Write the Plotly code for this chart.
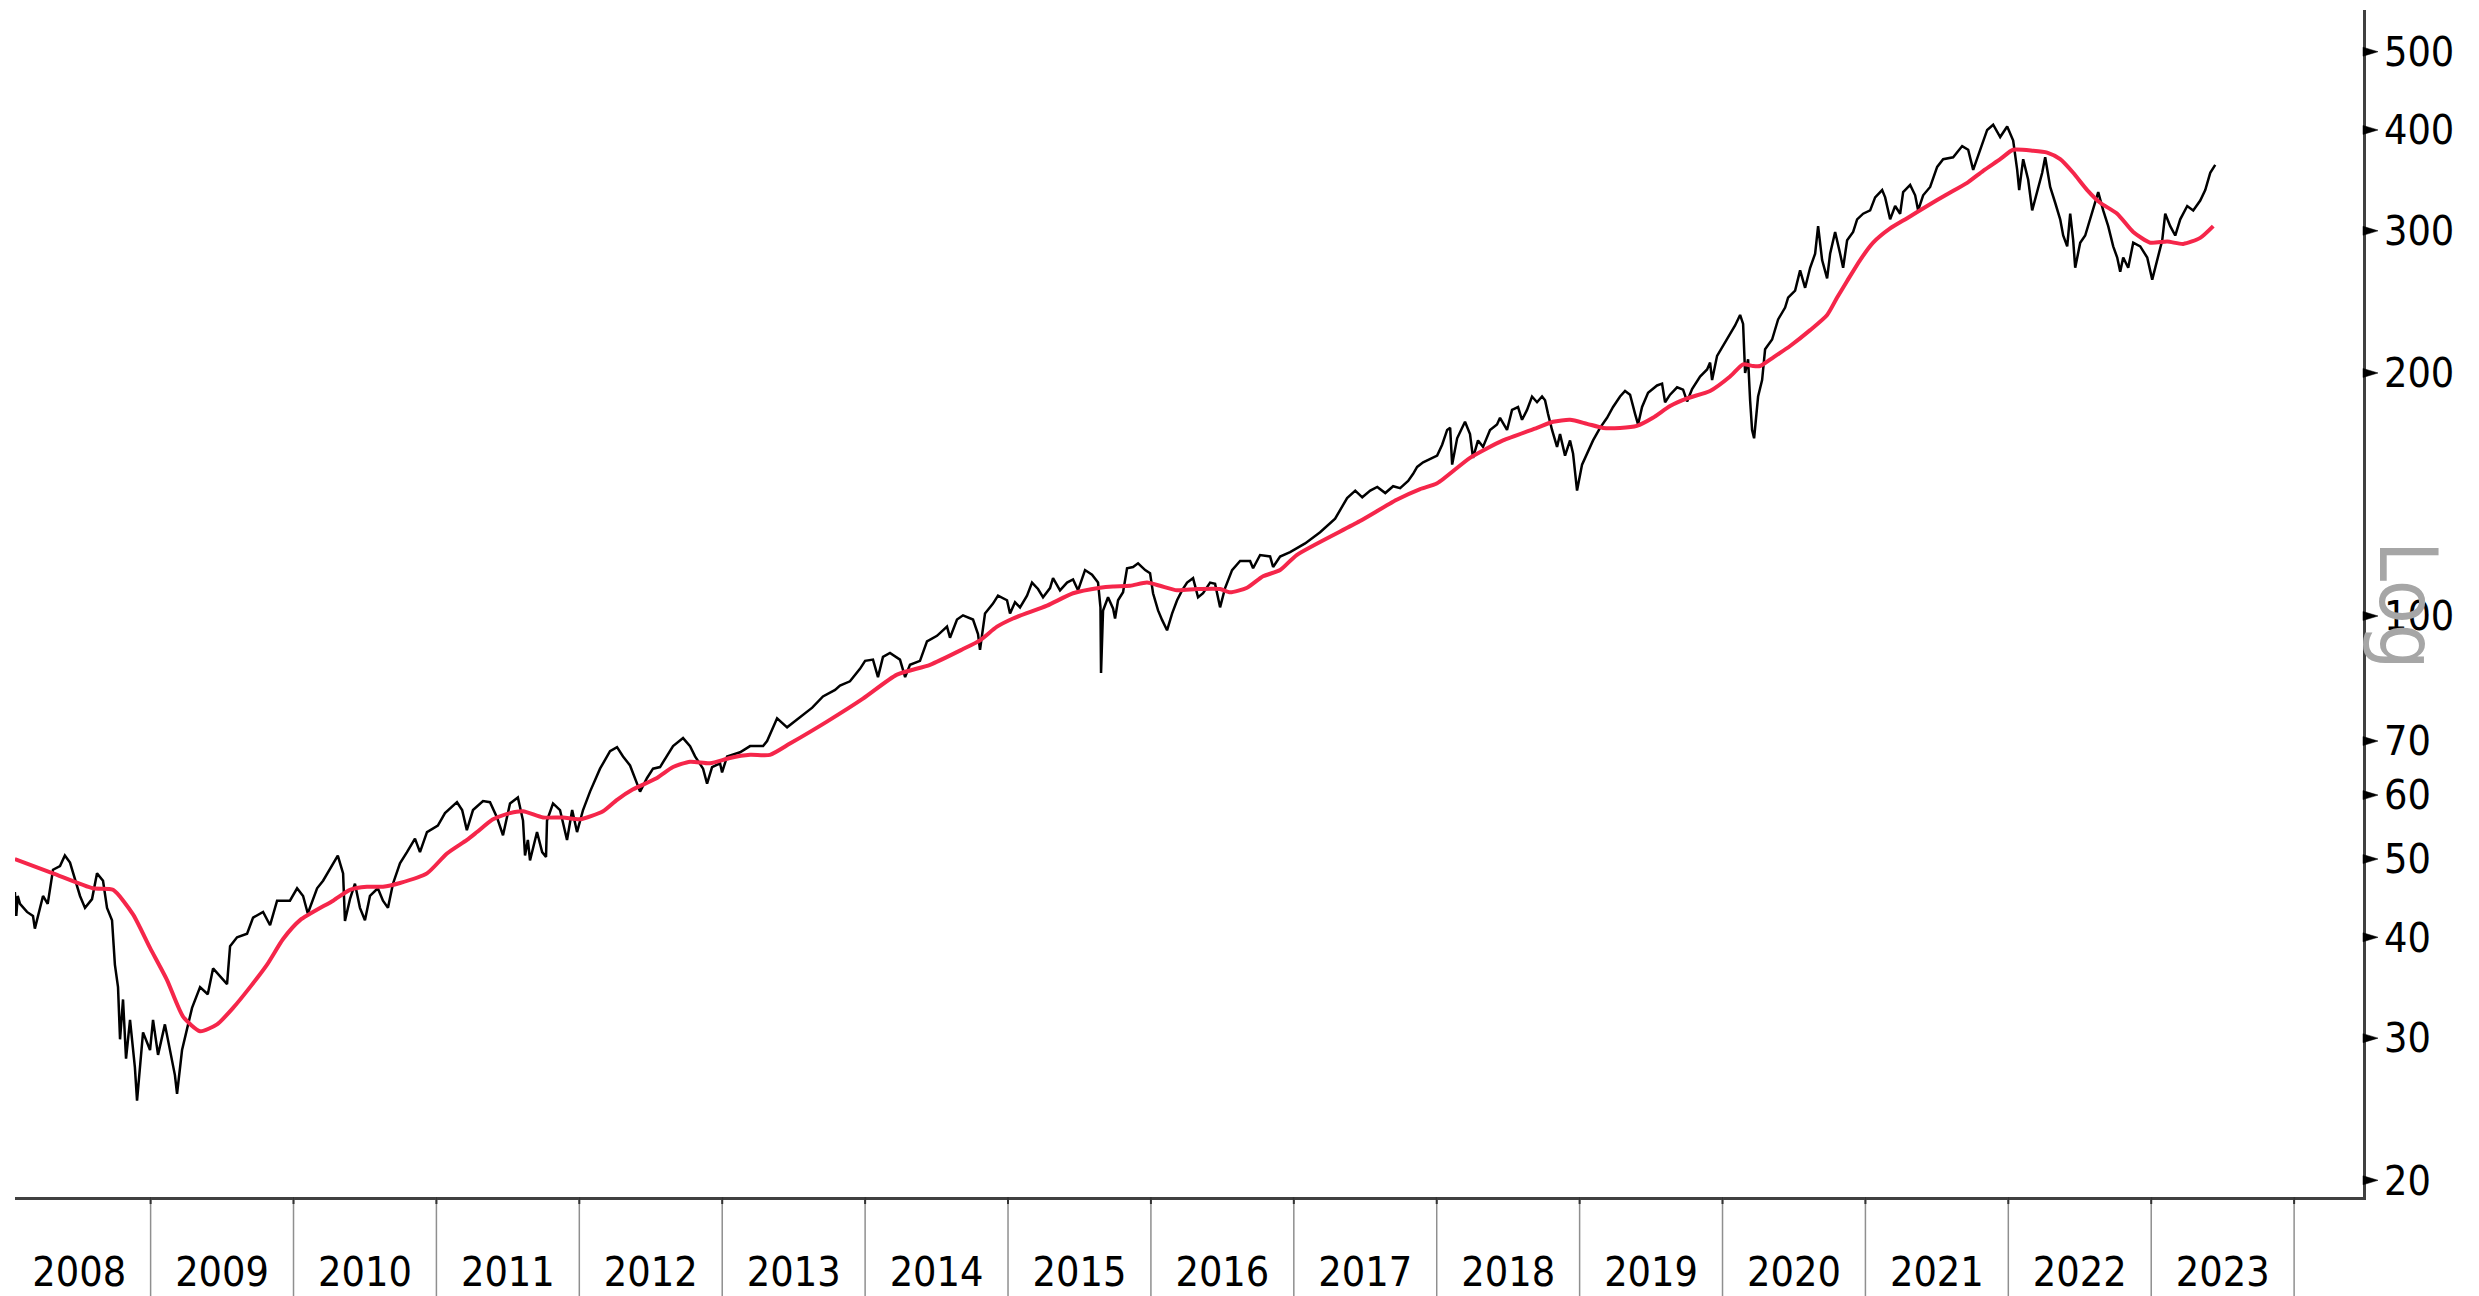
import math
import plotly.graph_objects as go

# ---------------- data ----------------
# time in decimal years, price level
black_t = [
    2008.05, 2008.06, 2008.07, 2008.086, 2008.135, 2008.177, 2008.19, 2008.247, 2008.28, 2008.317,
    2008.366, 2008.40, 2008.436, 2008.457, 2008.506, 2008.541, 2008.59, 2008.625, 2008.667, 2008.695,
    2008.73, 2008.75, 2008.772, 2008.786, 2008.807, 2008.828, 2008.856, 2008.89, 2008.905, 2008.947,
    2008.996, 2009.017, 2009.052, 2009.10, 2009.136, 2009.17, 2009.185, 2009.22, 2009.255, 2009.29,
    2009.346, 2009.40, 2009.437, 2009.50, 2009.535, 2009.556, 2009.605, 2009.675, 2009.717, 2009.787,
    2009.836, 2009.885, 2009.975, 2010.025, 2010.067, 2010.10, 2010.165, 2010.207, 2010.277, 2010.31,
    2010.347, 2010.36, 2010.395, 2010.43, 2010.465, 2010.50, 2010.535, 2010.59, 2010.626, 2010.661,
    2010.696, 2010.745, 2010.794, 2010.85, 2010.885, 2010.934, 2011.01, 2011.06, 2011.144, 2011.18,
    2011.213, 2011.256, 2011.326, 2011.375, 2011.424, 2011.466, 2011.515, 2011.57, 2011.606, 2011.62,
    2011.64, 2011.655, 2011.704, 2011.74, 2011.767, 2011.774, 2011.816, 2011.865, 2011.914, 2011.95,
    2011.984, 2012.026, 2012.075, 2012.145, 2012.215, 2012.264, 2012.306, 2012.355, 2012.404, 2012.425,
    2012.474, 2012.516, 2012.565, 2012.614, 2012.656, 2012.726, 2012.775, 2012.81, 2012.866, 2012.894,
    2012.929, 2012.985, 2012.999, 2013.034, 2013.125, 2013.195, 2013.286, 2013.314, 2013.384, 2013.454,
    2013.545, 2013.63, 2013.705, 2013.79, 2013.824, 2013.894, 2013.964, 2014.00, 2014.055, 2014.09,
    2014.125, 2014.174, 2014.244, 2014.28, 2014.314, 2014.384, 2014.433, 2014.503, 2014.573, 2014.594,
    2014.643, 2014.685, 2014.755, 2014.79, 2014.804, 2014.839, 2014.895, 2014.93, 2014.993, 2015.014,
    2015.049, 2015.084, 2015.133, 2015.168, 2015.21, 2015.245, 2015.294, 2015.315, 2015.364, 2015.413,
    2015.455, 2015.49, 2015.539, 2015.588, 2015.63, 2015.647, 2015.651, 2015.665, 2015.70, 2015.735,
    2015.749, 2015.77, 2015.805, 2015.833, 2015.875, 2015.91, 2015.96, 2015.994, 2016.015, 2016.05,
    2016.078, 2016.113, 2016.148, 2016.183, 2016.218, 2016.253, 2016.295, 2016.33, 2016.365, 2016.414,
    2016.449, 2016.484, 2016.519, 2016.568, 2016.624, 2016.694, 2016.715, 2016.764, 2016.834, 2016.855,
    2016.904, 2016.974, 2017.079, 2017.184, 2017.289, 2017.373, 2017.43, 2017.479, 2017.535, 2017.584,
    2017.64, 2017.695, 2017.744, 2017.80, 2017.835, 2017.863, 2017.905, 2017.954, 2018.003, 2018.038,
    2018.073, 2018.094, 2018.108, 2018.143, 2018.177, 2018.198, 2018.233, 2018.254, 2018.289, 2018.324,
    2018.373, 2018.422, 2018.443, 2018.492, 2018.527, 2018.569, 2018.597, 2018.632, 2018.667, 2018.702,
    2018.737, 2018.758, 2018.779, 2018.807, 2018.842, 2018.863, 2018.898, 2018.933, 2018.954, 2018.982,
    2019.017, 2019.052, 2019.094, 2019.143, 2019.192, 2019.234, 2019.283, 2019.318, 2019.353, 2019.388,
    2019.409, 2019.437, 2019.479, 2019.542, 2019.577, 2019.598, 2019.633, 2019.682, 2019.724, 2019.752,
    2019.787, 2019.843, 2019.892, 2019.913, 2019.927, 2019.962, 2020.004, 2020.053, 2020.088, 2020.123,
    2020.144, 2020.158, 2020.179, 2020.193, 2020.207, 2020.221, 2020.249, 2020.277, 2020.298, 2020.347,
    2020.389, 2020.438, 2020.459, 2020.508, 2020.543, 2020.578, 2020.613, 2020.648, 2020.669, 2020.697,
    2020.732, 2020.753, 2020.788, 2020.823, 2020.844, 2020.872, 2020.914, 2020.942, 2020.984, 2021.033,
    2021.068, 2021.117, 2021.138, 2021.173, 2021.208, 2021.243, 2021.264, 2021.313, 2021.348, 2021.369,
    2021.404, 2021.453, 2021.502, 2021.544, 2021.614, 2021.677, 2021.719, 2021.754, 2021.803, 2021.852,
    2021.894, 2021.943, 2021.992, 2022.034, 2022.062, 2022.076, 2022.104, 2022.139, 2022.167, 2022.202,
    2022.237, 2022.258, 2022.293, 2022.328, 2022.363, 2022.384, 2022.412, 2022.433, 2022.454, 2022.468,
    2022.503, 2022.538, 2022.573, 2022.608, 2022.629, 2022.664, 2022.699, 2022.734, 2022.762, 2022.783,
    2022.804, 2022.839, 2022.874, 2022.923, 2022.972, 2023.007, 2023.042, 2023.077, 2023.098, 2023.133,
    2023.168, 2023.203, 2023.252, 2023.294, 2023.343, 2023.378, 2023.413, 2023.448,
]
black_v = [
    45.5, 42.5, 45, 44, 43, 42.5, 41, 45, 44, 48.5,
    49, 50.5, 49.5, 48, 45, 43.5, 44.6, 48, 47, 43.5,
    42, 37, 34.7, 29.9, 33.5, 28.3, 31.6, 27.6, 25.1, 30.5,
    29, 31.6, 28.6, 31.2, 28.9, 27, 25.6, 29, 30.8, 32.7,
    34.7, 34, 36.6, 35.6, 35, 39, 40, 40.4, 42.3, 43,
    41.4, 44.4, 44.4, 46, 45, 42.8, 46, 47, 49.4, 50.5,
    48, 41.9, 44.6, 46.6, 43.5, 42, 45, 46, 44.4, 43.5,
    46.6, 49.4, 51, 53, 51, 54, 55, 57, 58.8, 57.5,
    54.3, 57.5, 59, 58.8, 56.3, 53.5, 58.6, 59.6, 55.8, 50.5,
    52.8, 49.8, 54, 51, 50.3, 55.8, 58.6, 57.5, 52.8, 57.5,
    54, 57.5, 60.6, 64.7, 68, 68.8, 67, 65.3, 62, 60.6,
    63, 64.7, 65, 67, 69, 70.6, 69, 67, 64.7, 62,
    65, 65.7, 64, 67, 67.8, 69, 69, 70, 74.7, 72.8,
    75, 77, 79.5, 81, 82, 83, 86, 88, 88.3, 84,
    89, 90, 88.3, 84, 87, 88, 93, 94.5, 97, 94,
    99, 100.2, 99, 95, 90.8, 100.7, 103.6, 106, 104.6, 100.7,
    104, 102.5, 106, 110, 108, 105.5, 108.3, 111.4, 107.6, 110,
    111, 107.6, 114, 112.5, 110, 102.5, 85, 101.6, 105.5, 102.2,
    99.3, 104.6, 107, 114.6, 115, 116.2, 114, 113, 106.7, 101.6,
    98.9, 96, 100.7, 104.6, 107.6, 110, 111.4, 105.5, 106.7, 110,
    109.6, 102.5, 108.3, 114, 117, 117, 114.6, 119, 118.5, 115,
    118.5, 120, 123, 127, 132, 140, 143, 140.3, 143, 144.5,
    142, 144.8, 144, 147, 150, 153, 155, 156.5, 158, 163,
    170, 171, 154, 166, 171, 174, 168, 157, 165, 162,
    170, 172.7, 176, 170, 180, 181.5, 175, 180, 187, 184,
    187, 185, 178, 170, 162, 168, 158, 165, 159, 143,
    154, 159, 165, 171, 176, 181.5, 187, 190, 188, 178,
    172.7, 181.5, 189, 193, 194, 184, 188, 192, 190.7, 184.4,
    191, 198, 202, 206, 196, 210, 216, 224, 229, 236,
    230, 200, 208, 185, 170, 166, 187, 196, 214, 220,
    233, 241, 248, 253, 268, 255, 270, 281, 304, 276,
    262, 281, 299, 281, 270, 292, 299, 310, 315, 318,
    330, 337, 330, 310, 322, 315, 335, 342, 332, 318,
    332, 340, 360, 368, 370, 382, 378, 357, 378, 400,
    406, 392, 404, 388, 357, 337, 368, 347, 318, 337,
    354, 370, 340, 325, 310, 296, 287, 315, 292, 270,
    290, 296, 310, 327, 335, 318, 304, 287, 278, 267,
    278, 270, 290, 287, 278, 261, 276, 292, 315, 304,
    296, 310, 322, 318, 327, 337, 354, 362,
]

red_t = [
    2008.05, 2008.317, 2008.597, 2008.737, 2008.877, 2008.996, 2009.115, 2009.227, 2009.346, 2009.465,
    2009.577, 2009.696, 2009.815, 2009.927, 2010.046, 2010.277, 2010.395, 2010.514, 2010.626, 2010.745,
    2010.934, 2011.074, 2011.214, 2011.284, 2011.396, 2011.515, 2011.606, 2011.746, 2011.886, 2012.005,
    2012.166, 2012.264, 2012.376, 2012.544, 2012.656, 2012.775, 2012.915, 2013.054, 2013.195, 2013.334,
    2013.474, 2013.733, 2013.985, 2014.223, 2014.454, 2014.685, 2014.804, 2014.923, 2015.035, 2015.273,
    2015.455, 2015.644, 2015.735, 2015.854, 2015.973, 2016.064, 2016.183, 2016.323, 2016.484, 2016.554,
    2016.673, 2016.785, 2016.904, 2017.02, 2017.46, 2017.72, 2017.884, 2018.003, 2018.233, 2018.464,
    2018.702, 2018.814, 2018.933, 2019.052, 2019.164, 2019.283, 2019.401, 2019.513, 2019.633, 2019.752,
    2019.913, 2020.053, 2020.144, 2020.214, 2020.263, 2020.354, 2020.473, 2020.613, 2020.732, 2020.802,
    2020.872, 2020.963, 2021.054, 2021.173, 2021.292, 2021.432, 2021.572, 2021.712, 2021.824, 2021.943,
    2022.034, 2022.174, 2022.272, 2022.363, 2022.454, 2022.552, 2022.643, 2022.762, 2022.874, 2022.993,
    2023.112, 2023.224, 2023.343, 2023.434,
]
red_v = [
    50, 48, 46, 45.8, 42.7, 38.8, 35.4, 31.9, 30.6, 31.2,
    32.7, 34.7, 37, 39.8, 42, 44.4, 45.8, 46.2, 46.2, 46.7,
    48, 50.8, 52.8, 54, 56, 57, 57.3, 56.3, 56.3, 56,
    57.3, 59.2, 61, 63, 65, 66, 65.7, 66.7, 67.3, 67.3,
    69.5, 74, 79, 84.6, 87, 91, 93.3, 97, 99.3, 103,
    106.7, 108.4, 108.8, 109, 110, 109, 107.6, 108, 108, 107,
    108.4, 112, 114, 119, 131, 139.3, 143.6, 146, 157, 165,
    171, 174, 175, 173, 171, 171, 172, 176, 182, 186,
    190, 198, 205, 204, 204, 209, 216, 226, 236, 248,
    260, 276, 290, 302, 311, 322, 333, 344, 356, 368,
    378, 377, 375, 368, 354, 337, 325, 315, 299, 290,
    291, 289, 294, 304,
]

year_labels = ["2008", "2009", "2010", "2011", "2012", "2013", "2014", "2015",
               "2016", "2017", "2018", "2019", "2020", "2021", "2022", "2023"]
year_starts = [2008, 2009, 2010, 2011, 2012, 2013, 2014, 2015,
               2016, 2017, 2018, 2019, 2020, 2021, 2022, 2023]
divider_years = [2009, 2010, 2011, 2012, 2013, 2014, 2015, 2016,
                 2017, 2018, 2019, 2020, 2021, 2022, 2023, 2024]
y_ticks = [20, 30, 40, 50, 60, 70, 100, 200, 300, 400, 500]

# ---------------- styling / layout ----------------
OFF = 8                      # default page body margin of the html page
W, H = 2479 - OFF, 1296 - OFF
# plot area in page pixels: left 15, right 2363, top 10, bottom 1197
ML, MT = 15 - OFF, 10 - OFF
MR, MB = W - (2363 - OFF), H - (1197 - OFF)
PW, PH = W - ML - MR, H - MT - MB
X_RANGE = [2008.051, 2024.482]
Y_LO, Y_HI = 1.28034, 2.75064
FONT = "DejaVu Sans Condensed, DejaVu Sans, sans-serif"
AXIS_COLOR = "#404040"

fig = go.Figure()
fig.add_trace(go.Scatter(x=black_t, y=black_v, mode="lines",
                         line=dict(color="black", width=2.5), hoverinfo="skip"))
fig.add_trace(go.Scatter(x=red_t, y=red_v, mode="lines",
                         line=dict(color="#f5264a", width=4, shape="spline", smoothing=0.6),
                         hoverinfo="skip"))

shapes = []
# year divider ticks below the x axis
for yr in divider_years:
    shapes.append(dict(type="line", xref="x", yref="paper", x0=yr, x1=yr,
                       y0=0, y1=-MB / PH, line=dict(color="#8f8f8f", width=1.5)))
    shapes.append(dict(type="line", xref="x", yref="paper", x0=yr, x1=yr,
                       y0=0, y1=-7 / PH, line=dict(color="#333333", width=2)))
# triangular tick marks on the right axis
for v in y_ticks:
    yf = (math.log10(v) - Y_LO) / (Y_HI - Y_LO)
    x0 = 1.0
    x1 = 1.0 + 15 / PW
    ya = yf - 4.5 / PH
    yb = yf + 4.5 / PH
    shapes.append(dict(type="path", xref="paper", yref="paper",
                       path=f"M {x0},{ya} L {x1},{yf} L {x0},{yb} Z",
                       fillcolor="black", line=dict(color="black", width=0.5)))

LOG_X, LOG_Y = 2416 - OFF, 605 - OFF   # page pixels of the "Log" label centre

fig.update_layout(
    width=W, height=H,
    margin=dict(l=ML, r=MR, t=MT, b=MB, pad=0, autoexpand=False),
    paper_bgcolor="white", plot_bgcolor="white",
    showlegend=False,
    shapes=shapes,
    xaxis=dict(
        range=X_RANGE, showgrid=False, zeroline=False, automargin=False,
        showline=True, linecolor=AXIS_COLOR, linewidth=2.5,
        tickmode="array", tickvals=[y + 0.5 for y in year_starts], ticktext=year_labels,
        ticks="outside", ticklen=37, tickcolor="rgba(0,0,0,0)",
        tickfont=dict(family=FONT, size=41, color="black"),
    ),
    yaxis=dict(
        type="log", range=[Y_LO, Y_HI], side="right", automargin=False,
        showgrid=False, zeroline=False,
        showline=True, linecolor=AXIS_COLOR, linewidth=2.5,
        tickmode="array", tickvals=y_ticks, ticktext=[str(v) for v in y_ticks],
        ticks="outside", ticklen=10, tickcolor="rgba(0,0,0,0)",
        tickfont=dict(family=FONT, size=41, color="black"),
    ),
    annotations=[dict(
        text="Log", xref="paper", yref="paper",
        x=(LOG_X - 8 - ML) / PW, y=(H - MB - LOG_Y) / PH,
        showarrow=False, textangle=90,
        font=dict(family=FONT, size=80, color="#a6a6a6"),
        xanchor="center", yanchor="middle",
    )],
)

fig.write_html("out.html")
